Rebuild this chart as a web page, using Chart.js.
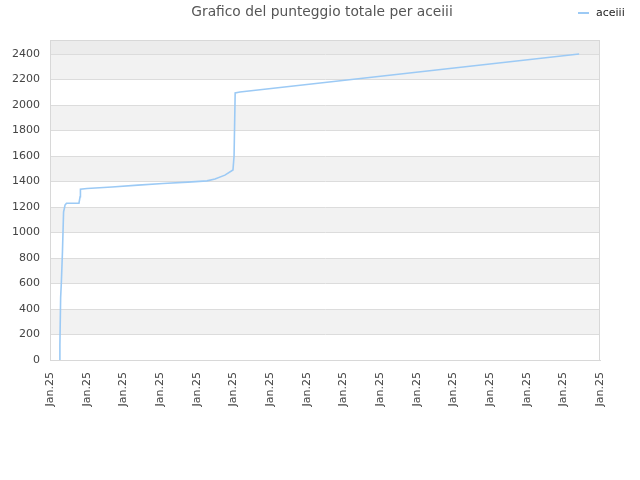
<!DOCTYPE html>
<html>
<head>
<meta charset="utf-8">
<script src="https://cdn.jsdelivr.net/npm/chart.js@4/dist/chart.umd.min.js"></script>
<style>
  body { margin: 0; background: #fff; }
  #wrap { width: 640px; height: 480px; }
</style>
</head>
<body>
<div id="wrap"><canvas id="scoreChart" width="640" height="480"></canvas></div>
<script>
// x position on the time axis (one unit = one tick) and total score
const timePos = [0.26, 0.27, 0.29, 0.31, 0.34, 0.37, 0.41, 0.45, 0.79, 0.82, 0.83, 1.01, 1.69, 2.40, 3.08, 3.76, 4.28, 4.50, 4.77, 4.99, 5.02, 5.05, 5.18, 14.43];
const scores  = [0,    120,  490,  610,  850,  1160, 1215, 1230, 1230, 1280, 1340, 1345, 1357, 1372, 1384, 1395, 1405, 1420, 1450, 1490, 1600, 2095, 2102, 2400];
const xLabels = ['Jan.25', 'Jan.25', 'Jan.25', 'Jan.25', 'Jan.25', 'Jan.25', 'Jan.25', 'Jan.25',
                 'Jan.25', 'Jan.25', 'Jan.25', 'Jan.25', 'Jan.25', 'Jan.25', 'Jan.25', 'Jan.25'];
const yTicks  = [0, 200, 400, 600, 800, 1000, 1200, 1400, 1600, 1800, 2000, 2200, 2400];
const yMax = 2510;

const chartTitle = 'Grafico del punteggio totale per aceiii';
const seriesName = 'aceiii';
const lineColor = '#9ccaf5';

Chart.defaults.font.family = '"DejaVu Sans", sans-serif';
Chart.defaults.font.size = 11;
Chart.defaults.color = '#444';

// grey bands behind the plot, border, title and legend
const decorPlugin = {
    id: 'decor',
    beforeDraw(chart) {
        const { ctx, chartArea: a, scales: { y } } = chart;
        ctx.save();
        for (let i = 1; i < yTicks.length - 1; i += 2) {
            const top = y.getPixelForValue(yTicks[i + 1]);
            const bot = y.getPixelForValue(yTicks[i]);
            ctx.fillStyle = '#f2f2f2';
            ctx.fillRect(a.left, top, a.right - a.left, bot - top);
        }
        const last = y.getPixelForValue(yTicks[yTicks.length - 1]);
        ctx.fillStyle = '#ececec';
        ctx.fillRect(a.left, a.top, a.right - a.left, last - a.top);
        ctx.restore();
    },
    afterDraw(chart) {
        const { ctx, chartArea: a } = chart;
        ctx.save();
        ctx.strokeStyle = '#d8d8d8';
        ctx.lineWidth = 1;
        ctx.strokeRect(a.left + 0.5, a.top + 0.5, a.right - a.left - 1, a.bottom - a.top);

        ctx.fillStyle = '#555';
        ctx.font = '13.8px "DejaVu Sans", sans-serif';
        ctx.textAlign = 'center';
        ctx.textBaseline = 'middle';
        ctx.fillText(chartTitle, 322, 12);

        const ds = chart.data.datasets[0];
        ctx.strokeStyle = ds.borderColor;
        ctx.lineWidth = 2;
        ctx.beginPath();
        ctx.moveTo(578, 13);
        ctx.lineTo(589, 13);
        ctx.stroke();
        ctx.fillStyle = '#222';
        ctx.font = '11px "DejaVu Sans", sans-serif';
        ctx.textAlign = 'left';
        ctx.fillText(ds.label, 596, 13);
        ctx.restore();
    }
};

new Chart(document.getElementById('scoreChart'), {
    type: 'line',
    data: {
        datasets: [{
            label: seriesName,
            data: timePos.map((t, i) => ({ x: t, y: scores[i] })),
            borderColor: lineColor,
            borderWidth: 1.6,
            pointRadius: 0,
            tension: 0,
            fill: false
        }]
    },
    options: {
        responsive: false,
        animation: false,
        layout: { padding: { top: 40, right: 40, left: 0, bottom: 0 } },
        plugins: {
            legend: { display: false },
            title: { display: false },
            tooltip: { enabled: false }
        },
        scales: {
            x: {
                type: 'linear',
                min: 0,
                max: xLabels.length - 1,
                grid: { display: false, drawTicks: false },
                border: { color: '#d8d8d8' },
                afterBuildTicks(scale) {
                    scale.ticks = xLabels.map((_, i) => ({ value: i }));
                },
                afterFit(scale) { scale.height = 120; },
                ticks: {
                    autoSkip: false,
                    minRotation: 90,
                    maxRotation: 90,
                    padding: 12,
                    color: '#444',
                    callback: (v) => xLabels[v]
                }
            },
            y: {
                min: 0,
                max: yMax,
                afterBuildTicks(scale) {
                    scale.ticks = yTicks.map(v => ({ value: v }));
                },
                afterFit(scale) { scale.width = 50; },
                grid: { color: '#dcdcdc', drawTicks: false },
                border: { color: '#d8d8d8' },
                ticks: { padding: 10, color: '#444', callback: (v) => String(v) }
            }
        }
    },
    plugins: [decorPlugin]
});
</script>
</body>
</html>
